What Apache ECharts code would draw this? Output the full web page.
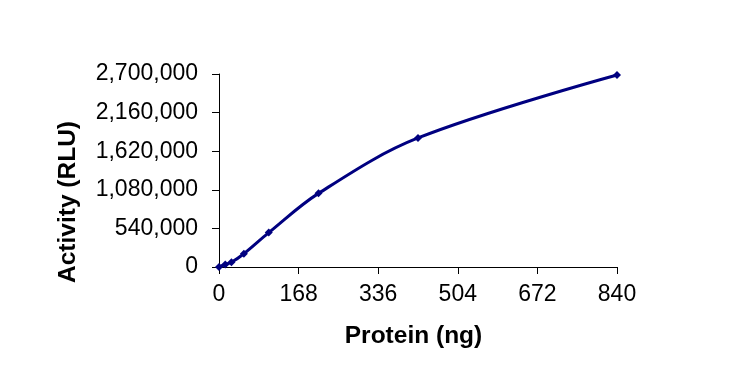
<!DOCTYPE html>
<html>
<head>
<meta charset="utf-8">
<script src="https://cdn.jsdelivr.net/npm/echarts@6/dist/echarts.min.js"></script>
<style>html,body{margin:0;padding:0;background:#fff}#c{width:756px;height:379px}</style>
</head>
<body>
<div id="c"></div>
<script>
var protein = [0, 13.125, 26.25, 52.5, 105, 210, 420, 840];
var activity = [0, 35000, 67000, 186000, 481000, 1030000, 1805000, 2686000];
var xTicks = [0, 168, 336, 504, 672, 840];
var yTicks = [0, 540000, 1080000, 1620000, 2160000, 2700000];

var chart = echarts.init(document.getElementById('c'), null, {renderer: 'canvas'});
var font = '"Liberation Sans", Arial, sans-serif';
chart.setOption({
  animation: false,
  backgroundColor: '#ffffff',
  grid: {left: 219, right: 139, top: 74, bottom: 112, containLabel: false},
  xAxis: {
    type: 'value',
    min: xTicks[0], max: xTicks[xTicks.length - 1], interval: 168,
    name: 'Protein (ng)', nameLocation: 'middle', nameGap: 57,
    nameTextStyle: {fontFamily: font, fontSize: 24.5, fontWeight: 'bold', color: '#000', padding: [0, 9, 0, 0]},
    axisLine: {show: true, lineStyle: {color: '#000', width: 1}},
    axisTick: {show: true, inside: false, length: 7, lineStyle: {color: '#000'}},
    axisLabel: {fontFamily: font, fontSize: 23, color: '#000', margin: 16},
    splitLine: {show: false}
  },
  yAxis: {
    type: 'value',
    min: yTicks[0], max: yTicks[yTicks.length - 1], interval: 540000,
    axisLine: {show: true, lineStyle: {color: '#000', width: 1}},
    axisTick: {show: true, inside: false, length: 7, lineStyle: {color: '#000'}},
    axisLabel: {fontFamily: font, fontSize: 23, color: '#000', margin: 21,
      formatter: function (v) { return v.toLocaleString('en-US'); }},
    splitLine: {show: false}
  },
  graphic: [{
    type: 'text', x: 68, y: 202, rotation: Math.PI / 2,
    style: {text: 'Activity (RLU)', fontFamily: font, fontSize: 24.5, fontWeight: 'bold',
      fill: '#000', align: 'center', verticalAlign: 'middle'}
  }],
  series: [{
    type: 'line',
    data: protein.map(function (x, i) { return [x, activity[i]]; }),
    smooth: 0.35,
    symbol: 'diamond', symbolSize: 8,
    showAllSymbol: true,
    lineStyle: {color: '#000080', width: 3},
    itemStyle: {color: '#000080'}
  }]
});
</script>
</body>
</html>
